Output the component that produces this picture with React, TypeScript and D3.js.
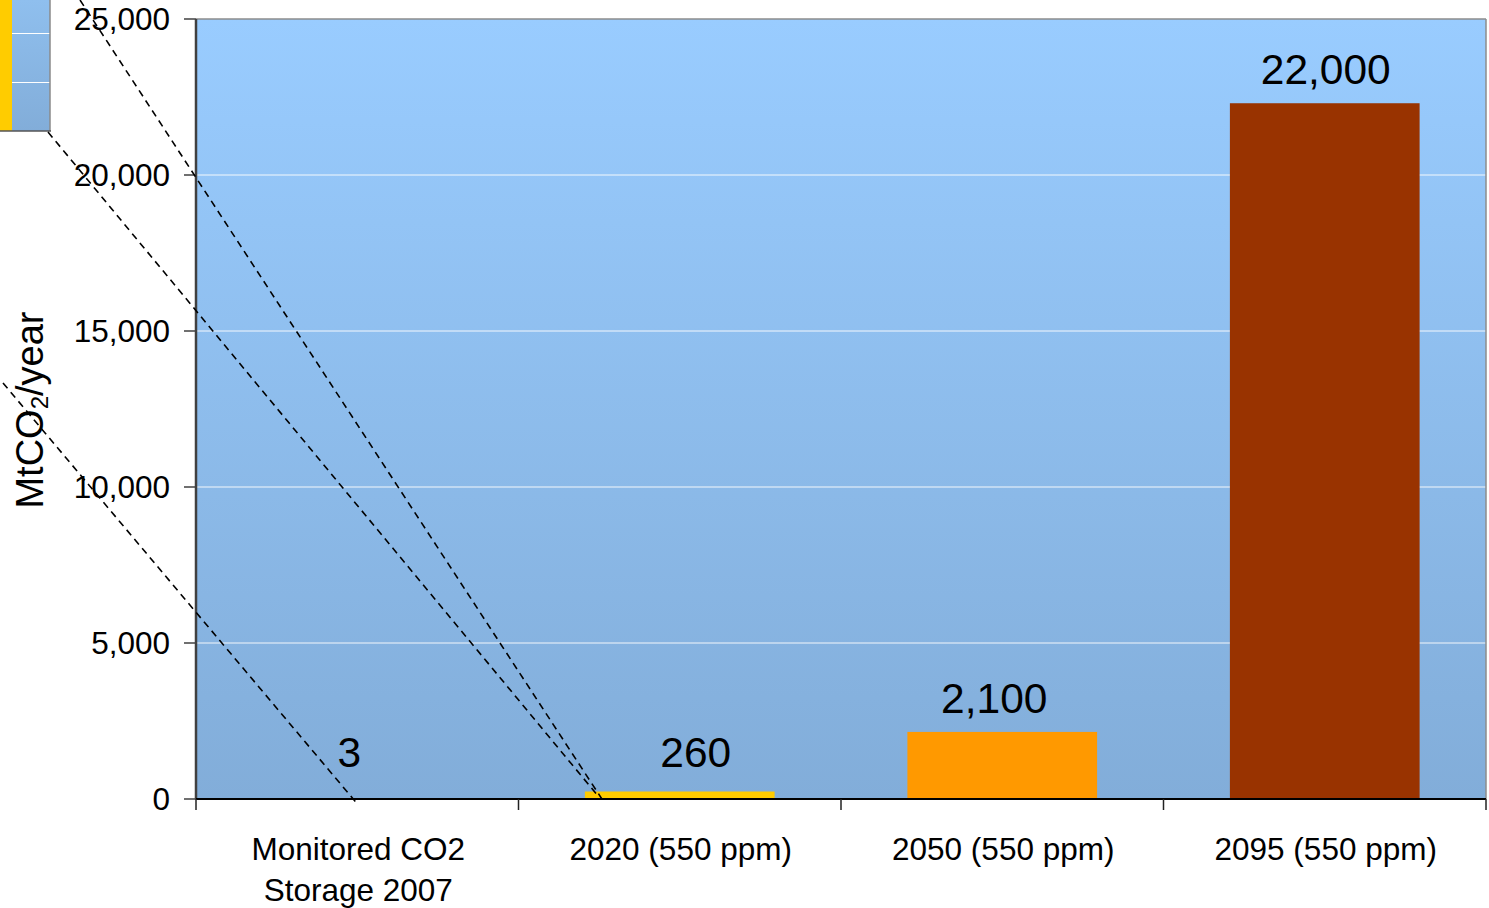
import React from "react";
import * as d3 from "d3";

const categories = ["Monitored CO2\nStorage 2007", "2020 (550 ppm)", "2050 (550 ppm)", "2095 (550 ppm)"];
const values = [3, 240, 2150, 22300];
const valueLabels = ["3", "260", "2,100", "22,000"];
const barColors = ["#FFCC00", "#FFCC00", "#FF9900", "#993300"];
const yTicks = [0, 5000, 10000, 15000, 20000, 25000];
const labelShift = [-8, 16, -8, 1];

const W = 1489;
const H = 908;
const left = 196;
const right = 1486;
const top = 19;
const bottom = 799;
const FONT = "'Liberation Sans', Arial, Helvetica, sans-serif";

export default function App() {
  const x = d3.scaleBand<string>().domain(categories).range([left, right]).padding(0);
  const y = d3.scaleLinear().domain([0, 25000]).range([bottom, top]);
  const bw = x.bandwidth() / 1.7;
  const fmt = d3.format(",");

  // annotation (zoom call-out) dashed lines, anchored to the axis
  const x0 = y(0);
  const c0 = (x(categories[0]) as number) + x.bandwidth() / 2;
  const b1 = (x(categories[1]) as number) + (x.bandwidth() - bw) / 2;
  const calloutLines = [
    { x1: 80, y1: 0, x2: b1 + 17, y2: x0 },
    { x1: 48, y1: 132, x2: b1 + 14, y2: x0 - 2 },
    { x1: 3, y1: 383, x2: c0 + 1, y2: x0 + 6 },
  ];

  return (
    <svg width={W} height={H} style={{ position: "absolute", left: 0, top: 0, display: "block", background: "#fff" }}>
      <defs>
        <linearGradient id="bg" x1="0" y1="0" x2="0" y2="1">
          <stop offset="0%" stopColor="#99CCFF" />
          <stop offset="100%" stopColor="#82ADD9" />
        </linearGradient>
        <linearGradient id="bgInset" x1="0" y1="0" x2="0" y2="1">
          <stop offset="0%" stopColor="#8FBFEE" />
          <stop offset="100%" stopColor="#82ADD9" />
        </linearGradient>
      </defs>

      {/* inset fragment at top-left */}
      <rect x={0} y={0} width={50} height={131} fill="url(#bgInset)" />
      <rect x={0} y={0} width={12} height={131} fill="#FFCC00" />
      <line x1={12} x2={50} y1={33.5} y2={33.5} stroke="#fff" strokeWidth={1} />
      <line x1={12} x2={50} y1={82.5} y2={82.5} stroke="#fff" strokeWidth={1} />
      <line x1={50} x2={50} y1={0} y2={131} stroke="#8a8a8a" strokeWidth={1.5} />
      <line x1={0} x2={51} y1={131} y2={131} stroke="#555" strokeWidth={1.5} />

      {/* plot background */}
      <rect x={left} y={top} width={right - left} height={bottom - top} fill="url(#bg)" />

      {/* gridlines */}
      {yTicks.slice(1, -1).map((t) => (
        <line key={t} x1={left} x2={right} y1={y(t)} y2={y(t)} stroke="#ffffff" strokeWidth={1} opacity={0.9} />
      ))}

      {/* border */}
      <line x1={left} x2={right} y1={top} y2={top} stroke="#8c8c8c" strokeWidth={1.5} />
      <line x1={right} x2={right} y1={top} y2={bottom} stroke="#8c8c8c" strokeWidth={1.5} />

      {/* bars */}
      {categories.map((c, i) => (
        <rect
          key={c}
          x={(x(c) as number) + (x.bandwidth() - bw) / 2}
          y={y(values[i])}
          width={bw}
          height={Math.max(0, y(0) - y(values[i]))}
          fill={barColors[i]}
        />
      ))}

      {/* y axis */}
      <line x1={left} x2={left} y1={top} y2={bottom} stroke="#404040" strokeWidth={2.5} />
      {yTicks.map((t) => (
        <g key={t}>
          <line x1={left - 12} x2={left} y1={y(t)} y2={y(t)} stroke="#404040" strokeWidth={1.5} />
          <text
            x={170}
            y={y(t)}
            dy="0.36em"
            textAnchor="end"
            fontFamily={FONT}
            fontSize={31.5}
            fill="#000"
          >
            {fmt(t)}
          </text>
        </g>
      ))}

      {/* x axis */}
      <line x1={left} x2={right} y1={bottom} y2={bottom} stroke="#000" strokeWidth={2} />
      {[...categories.map((c) => x(c) as number), right].map((v, i) => (
        <line key={i} x1={v} x2={v} y1={bottom} y2={bottom + 11} stroke="#222" strokeWidth={1.5} />
      ))}
      {categories.map((c) => (
        <text
          key={c}
          x={(x(c) as number) + x.bandwidth() / 2}
          y={860}
          textAnchor="middle"
          fontFamily={FONT}
          fontSize={31.5}
          fill="#000"
        >
          {c.split("\n").map((ln, j) => (
            <tspan key={j} x={(x(c) as number) + x.bandwidth() / 2 + 1} dy={j === 0 ? 0 : 41}>
              {ln}
            </tspan>
          ))}
        </text>
      ))}

      {/* data labels */}
      {categories.map((c, i) => (
        <text
          key={c}
          x={(x(c) as number) + x.bandwidth() / 2 + labelShift[i]}
          y={Math.min(y(values[i]) - 19, y(0) - 32)}
          textAnchor="middle"
          fontFamily={FONT}
          fontSize={42.5}
          fill="#000"
        >
          {valueLabels[i]}
        </text>
      ))}

      {/* y axis title */}
      <text
        transform={`translate(43,410) rotate(-90)`}
        textAnchor="middle"
        fontFamily={FONT}
        fontSize={38}
        fill="#000"
      >
        MtCO
        <tspan fontSize={24} dy={5}>2</tspan>
        <tspan dy={-5}>/year</tspan>
      </text>

      {/* callout dashed lines */}
      {calloutLines.map((l, i) => (
        <line
          key={i}
          x1={l.x1}
          y1={l.y1}
          x2={l.x2}
          y2={l.y2}
          stroke="#000"
          strokeWidth={1.6}
          strokeDasharray="7,5"
        />
      ))}
    </svg>
  );
}
